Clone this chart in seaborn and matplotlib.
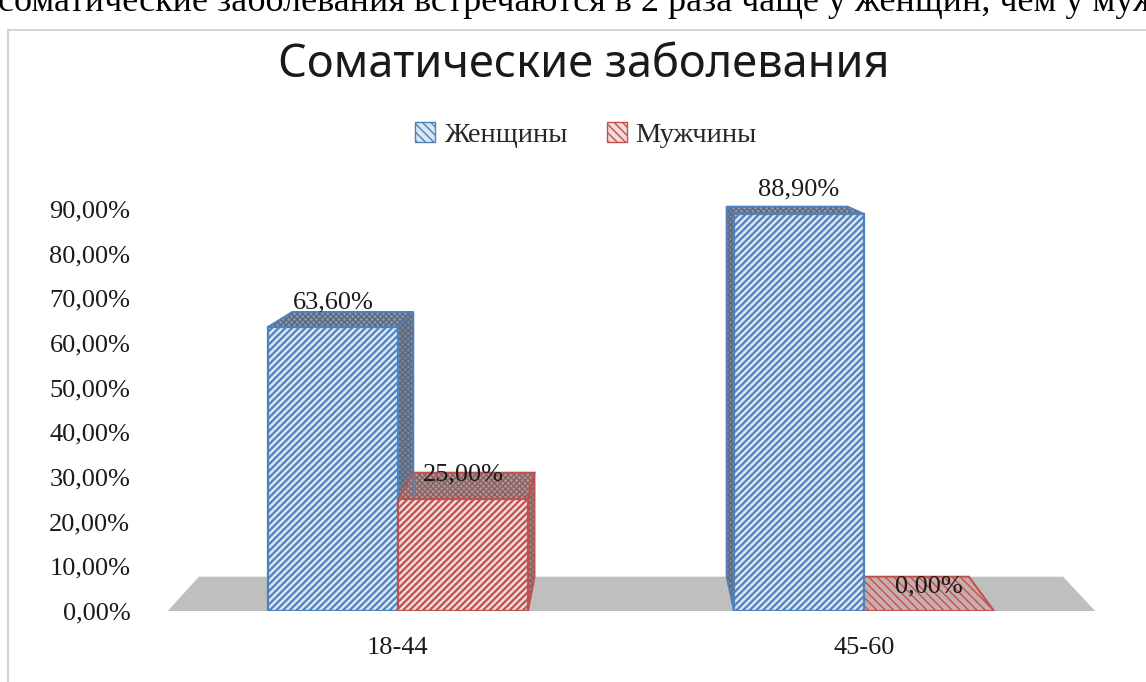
import numpy as np
import pandas as pd
import matplotlib
matplotlib.use('Agg')
import matplotlib.pyplot as plt
import matplotlib.patches as mpatches
from matplotlib.patches import Polygon, Rectangle
import seaborn as sns

# --- data ---
age_groups = ['18-44', '45-60']
series = ['Женщины', 'Мужчины']
women = [63.6, 88.9]
men = [25.0, 0.0]
y_ticks = [0, 10, 20, 30, 40, 50, 60, 70, 80, 90]

title = 'Соматические заболевания'
page_text = 'соматические заболевания встречаются в 2 раза чаще у женщин, чем у мужчин'


def pct(v):
    return f'{v:.2f}%'.replace('.', ',')


df = pd.DataFrame({
    'Возраст': age_groups * 2,
    'Пол': [series[0]] * len(age_groups) + [series[1]] * len(age_groups),
    'Доля': women + men,
})

# --- styling ---
sns.set_theme(style='white')
plt.rcParams['font.family'] = ['Liberation Serif', 'DejaVu Serif']
plt.rcParams['hatch.linewidth'] = 1.6

edge_cols = {'Женщины': '#4f81bd', 'Мужчины': '#c0504d'}
front_cols = {'Женщины': '#dce6f2', 'Мужчины': '#f2dcdb'}
side_cols = {'Женщины': '#7a879a', 'Мужчины': '#a08484'}
top_cols = {'Женщины': '#8e9aab', 'Мужчины': '#b09595'}
dot_cols = {'Женщины': '#5a6880', 'Мужчины': '#8a6262'}

# simple perspective: every back corner is pulled toward a vanishing point
VP = (0.487, 113.0)
K = 0.068


def back(x, y):
    return (x + K * (VP[0] - x), y + K * (VP[1] - y))


fig = plt.figure(figsize=(11.46, 6.82), dpi=100, facecolor='white')
ax = fig.add_axes([140 / 1146, 71 / 682, 970 / 1146, 441 / 682])
ax.set_facecolor('none')

sns.barplot(data=df, x='Возраст', y='Доля', hue='Пол', hue_order=series,
            palette=[edge_cols[s] for s in series], width=0.558, saturation=1,
            errorbar=None, legend=False, ax=ax)

ax.set_xlim(-0.5536, 1.528)
ax.set_ylim(0, 98.73)

# gray floor
fl, fr = -0.494, 1.496
ax.add_patch(Polygon([(fl, 0), (fr, 0), back(fr, 0), back(fl, 0)], closed=True,
                     facecolor='#bfbfbf', edgecolor='none', zorder=1))

plt.rcParams['hatch.linewidth'] = 1.0


def face(pts, name, fc):
    # dotted texture first, then the coloured outline on top
    ax.add_patch(Polygon(pts, closed=True, facecolor=fc, edgecolor=dot_cols[name],
                         hatch='xxxxxx', lw=0, zorder=2))
    ax.add_patch(Polygon(pts, closed=True, facecolor='none',
                         edgecolor=edge_cols[name], lw=1.3, zorder=2.1))


for name, cont in zip(series, ax.containers):
    for p in cont:
        x0, w, h = p.get_x(), p.get_width(), p.get_height()
        x1 = x0 + w
        ec = edge_cols[name]
        if h > 0:
            p.set_facecolor(front_cols[name])
            p.set_hatch('/////')
            p.set_edgecolor(ec)
            p.set_linewidth(1.6)
            p.set_zorder(3)
            face([(x0, h), (x1, h), back(x1, h), back(x0, h)], name, top_cols[name])
            if x1 < VP[0]:
                side = [(x1, 0), (x1, h), back(x1, h), back(x1, 0)]
            else:
                side = [(x0, 0), (x0, h), back(x0, h), back(x0, 0)]
            face(side, name, side_cols[name])
        else:
            p.set_visible(False)
            ax.add_patch(Polygon([(x0, 0), (x1, 0), back(x1, 0), back(x0, 0)],
                                 closed=True, facecolor='#c9adad', edgecolor=ec,
                                 hatch='\\\\\\\\', lw=1.4, zorder=2))
    ax.bar_label(cont, labels=[pct(v) for v in cont.datavalues], padding=10,
                 fontsize=19, color='#1a1a1a', zorder=5)

# axes cosmetics
ax.set_yticks(y_ticks)
ax.set_yticklabels([pct(v) for v in y_ticks])
ax.tick_params(axis='y', length=0, pad=7, labelsize=19, labelcolor='#1a1a1a')
ax.tick_params(axis='x', length=0, pad=19, labelsize=19, labelcolor='#1a1a1a')
ax.set_xlabel('')
ax.set_ylabel('')
for s in ax.spines.values():
    s.set_visible(False)

# chart frame and the clipped line of page text above it
fig.patches.append(Rectangle((8 / 1146, -0.05), 1.2, (682 - 30) / 682 + 0.05,
                             transform=fig.transFigure, facecolor='none',
                             edgecolor='#d4d4d4', lw=1.5))
fig.text(-0.002, 1 - 11 / 682, page_text, ha='left', va='baseline',
         fontsize=26, color='black')

fig.text(584 / 1146, 1 - 65 / 682, title, ha='center', va='center',
         fontsize=32.5, family=['Noto Sans', 'DejaVu Sans'], color='#1a1a1a')

handles = [mpatches.Patch(facecolor=front_cols[s], edgecolor=edge_cols[s],
                          hatch='\\\\\\\\', lw=1.0, label=s) for s in series]
fig.legend(handles=handles, loc='center', bbox_to_anchor=(586 / 1146, 1 - 135 / 682),
           ncol=2, frameon=False, fontsize=20.5, handlelength=0.7, handleheight=0.7,
           handletextpad=0.3, columnspacing=1.4)

fig.savefig('out.png', dpi=100)
plt.close(fig)
